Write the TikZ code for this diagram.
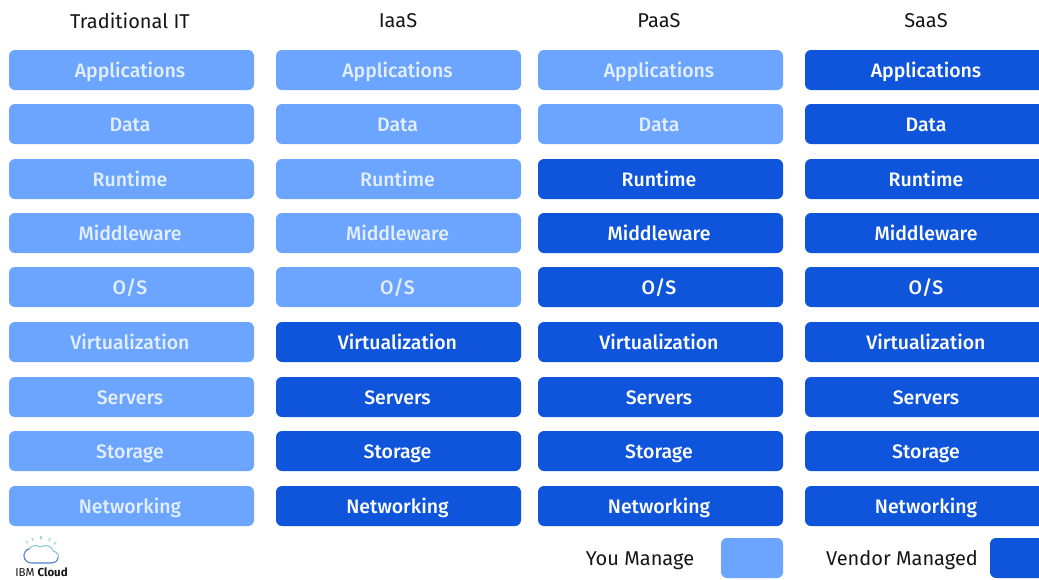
\documentclass[tikz,border=0pt]{standalone}
\usepackage{fontspec}
\setmainfont{Fira Sans}
\newfontfamily\tilefont{Fira Sans Medium}
\definecolor{youblue}{HTML}{6CA5FF}
\definecolor{vendorblue}{HTML}{0F55DC}
\definecolor{inktext}{HTML}{161616}
\definecolor{lighttext}{HTML}{E3EEFF}
\definecolor{raycolor}{HTML}{9ADBD8}
\definecolor{cloudtop}{HTML}{8FC7DC}
\definecolor{cloudlow}{HTML}{4F7FD0}
\tikzset{
  px/.style={x=1pt,y=-1pt},
  tile/.style={rounded corners=6pt,minimum height=40pt,minimum width=245pt,inner sep=0pt,font=\tilefont\fontsize{19.5}{20}\selectfont,text height=16pt,text depth=2pt,anchor=center},
  you/.style={tile,fill=youblue,text=lighttext},
  vendor/.style={tile,fill=vendorblue,text=white},
  heading/.style={font=\fontsize{20}{22}\selectfont,text=inktext,inner sep=0pt},
  legendtext/.style={font=\fontsize{20}{22}\selectfont,text=inktext,inner sep=0pt},
  swatch/.style={rounded corners=6pt,minimum height=40pt,inner sep=0pt},
  logoline/.style={line width=1.1pt,line cap=round},
  rayline/.style={line width=1.2pt,line cap=round,draw=raycolor}
}
\begin{document}
\begin{tikzpicture}[px]
\useasboundingbox (0,0) rectangle (1039,579);
\clip (0,0) rectangle (1039,579);
\fill[white] (0,0) rectangle (1039,579);
% headings
\node[heading] (h1) at (130,21) {Traditional IT};
\node[heading] (h2) at (398,21) {IaaS};
\node[heading] (h3) at (659,21) {PaaS};
\node[heading] (h4) at (926,21) {SaaS};
% tiles
\foreach \lab/\yy/\cA/\cB/\cC/\cD [count=\r] in {
  Applications/70/you/you/you/vendor,
  Data/124/you/you/you/vendor,
  Runtime/179/you/you/vendor/vendor,
  Middleware/233/you/you/vendor/vendor,
  O\slash S/287/you/you/vendor/vendor,
  Virtualization/342/you/vendor/vendor/vendor,
  Servers/397/you/vendor/vendor/vendor,
  Storage/451/you/vendor/vendor/vendor,
  Networking/506/you/vendor/vendor/vendor}{
  \node[\cA] (a\r) at (131.5,\yy) {\hspace*{-3pt}\lab};
  \node[\cB] (b\r) at (398.5,\yy) {\hspace*{-2pt}\lab};
  \node[\cC] (c\r) at (660.5,\yy) {\hspace*{-3pt}\lab};
  \node[\cD,minimum width=242pt] (d\r) at (926,\yy) {\lab};
}
% legend
\node[legendtext] (youlab) at (640,561) {You Manage};
\node[swatch,fill=youblue,minimum width=62pt] (youswatch) at (752,558) {};
\node[legendtext] (vendorlab) at (902,560) {Vendor Managed};
\node[swatch,fill=vendorblue,minimum width=70pt] (vendorswatch) at (1025,558) {};
% IBM Cloud logo
\draw[logoline,draw=cloudtop] (29,549) .. controls (31,546) and (36,544) .. (40,547)
  .. controls (46,544) and (52,546) .. (53,551) .. controls (58,552) and (59,556) .. (58,558);
\draw[logoline,draw=cloudlow] (58,558) .. controls (57,562) and (54,563) .. (51,563) -- (32,563)
  .. controls (25,563) and (22,556) .. (25,552) .. controls (26,550) and (28,549) .. (29,549);
\draw[rayline] (41,536.5) -- (41,539);
\draw[rayline] (32,538) -- (33,540.5);
\draw[rayline] (50,538) -- (49,540.5);
\draw[rayline] (26,541) -- (28,543);
\draw[rayline] (56,542) -- (54,544);
\node[inner sep=0pt,text=inktext,anchor=base,font=\fontsize{11.5}{13}\selectfont] (ibm) at (41.5,576) {IBM \textbf{Cloud}};
\end{tikzpicture}
\end{document}
